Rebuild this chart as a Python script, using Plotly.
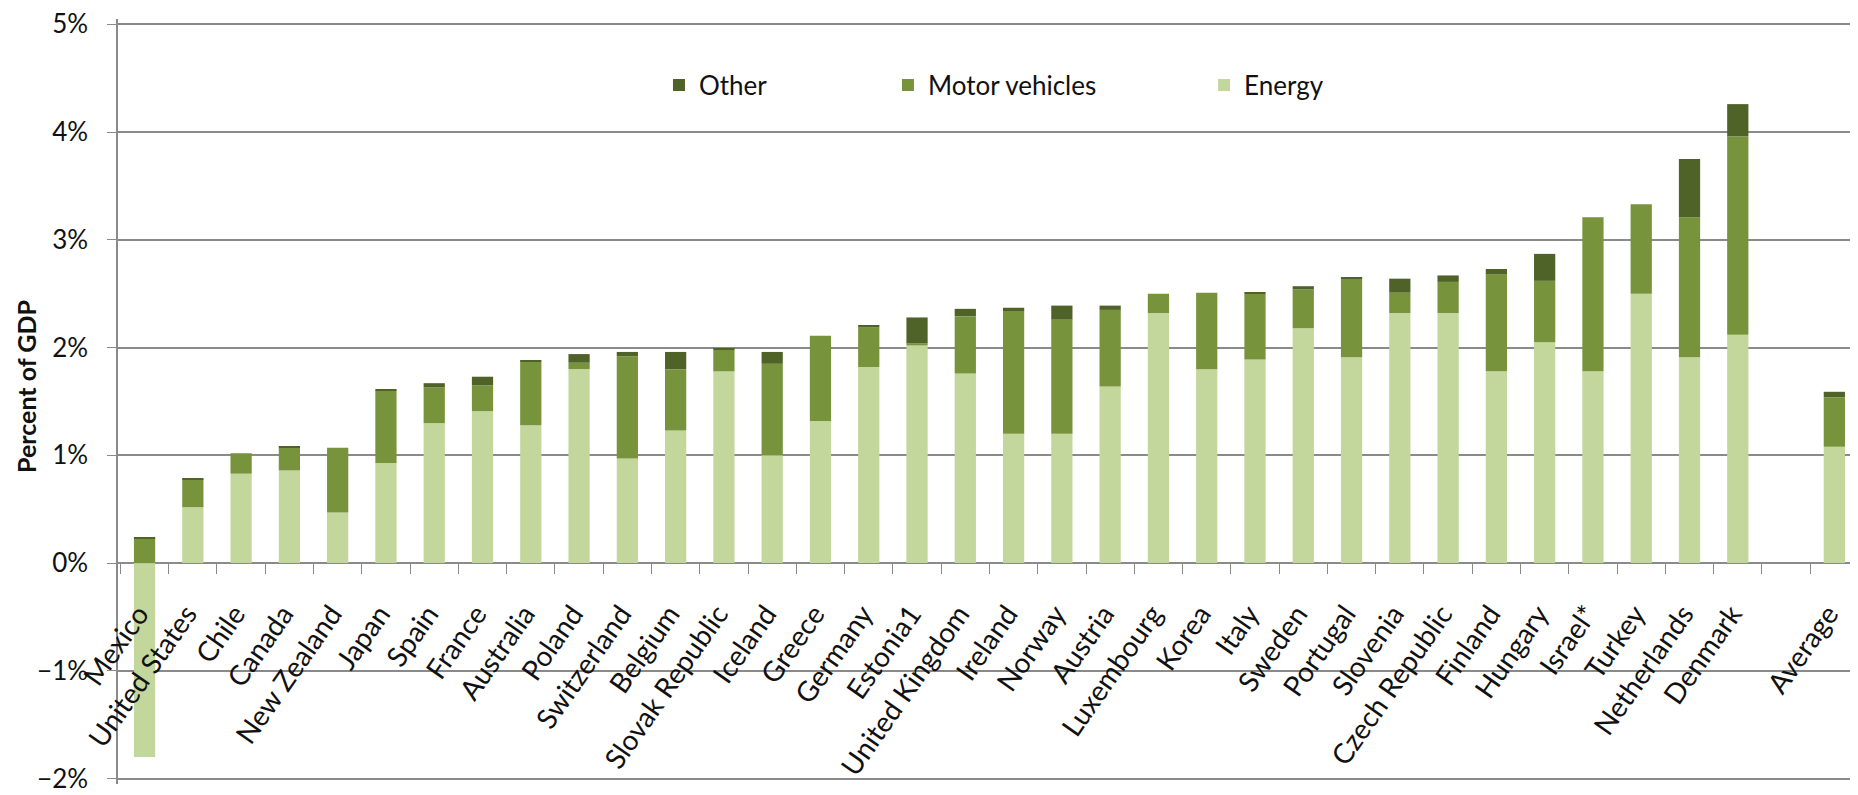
import plotly.graph_objects as go

countries = ["Mexico", "United States", "Chile", "Canada", "New Zealand", "Japan",
             "Spain", "France", "Australia", "Poland", "Switzerland", "Belgium",
             "Slovak Republic", "Iceland", "Greece", "Germany", "Estonia1",
             "United Kingdom", "Ireland", "Norway", "Austria", "Luxembourg", "Korea",
             "Italy", "Sweden", "Portugal", "Slovenia", "Czech Republic", "Finland",
             "Hungary", "Israel*", "Turkey", "Netherlands", "Denmark"]

energy = [-1.80, 0.52, 0.83, 0.86, 0.47, 0.93, 1.30, 1.41, 1.28, 1.80, 0.97, 1.23,
          1.78, 1.00, 1.32, 1.82, 2.02, 1.76, 1.20, 1.20, 1.64, 2.32, 1.80,
          1.89, 2.18, 1.91, 2.32, 2.32, 1.78, 2.05, 1.78, 2.50, 1.91, 2.12]
motor = [0.23, 0.26, 0.19, 0.21, 0.60, 0.67, 0.33, 0.24, 0.59, 0.06, 0.95, 0.57,
         0.20, 0.85, 0.79, 0.37, 0.02, 0.53, 1.14, 1.06, 0.71, 0.18, 0.71,
         0.61, 0.36, 0.73, 0.19, 0.29, 0.90, 0.57, 1.43, 0.83, 1.30, 1.84]
other = [0.01, 0.01, 0.00, 0.01, 0.00, 0.01, 0.04, 0.08, 0.01, 0.08, 0.04, 0.16,
         0.01, 0.11, 0.00, 0.02, 0.24, 0.07, 0.03, 0.13, 0.04, 0.00, 0.00,
         0.01, 0.03, 0.01, 0.13, 0.06, 0.05, 0.25, 0.00, 0.00, 0.54, 0.30]

avg_label = "Average"
avg_energy = 1.08
avg_motor = 0.46
avg_other = 0.05

# empty slot between Denmark and the average
x = countries + [" ", avg_label]
y_energy = energy + [None, avg_energy]
y_motor = motor + [None, avg_motor]
y_other = other + [None, avg_other]

FONT = "Lato, 'Open Sans', sans-serif"
GRID = "#8a8a8a"

# padding so the 5% and -2% gridlines are not dropped at the plot edges
y_lo, y_hi = -2.05, 5.05
zero_pos = (0 - y_lo) / (y_hi - y_lo)

fig = go.Figure()
fig.add_trace(go.Bar(x=x, y=y_energy, name="Energy", marker_color="#c3d69b",
                     marker_line_width=0, legend="legend3"))
fig.add_trace(go.Bar(x=x, y=y_motor, name="Motor vehicles", marker_color="#77933c",
                     marker_line_width=0, legend="legend2"))
fig.add_trace(go.Bar(x=x, y=y_other, name="Other", marker_color="#4f6228",
                     marker_line_width=0, legend="legend"))

leg = dict(orientation="h", yanchor="middle", xanchor="left", y=0.9136,
           bgcolor="rgba(0,0,0,0)", font=dict(family=FONT, size=26, color="#111"))

# page body keeps its default 8px margin, so the figure is 8px smaller
fig.update_layout(
    width=1850, height=787,
    barmode="relative", bargap=0.56,
    showlegend=True,
    plot_bgcolor="white", paper_bgcolor="white",
    margin=dict(l=110, r=0, t=8, b=11),
    font=dict(family=FONT, color="#111"),
    legend=dict(leg, x=0.3109),
    legend2=dict(leg, x=0.4425),
    legend3=dict(leg, x=0.6242),
    xaxis=dict(
        type="category", range=[-0.55, 35.49],
        anchor="free", position=zero_pos,
        showline=False,
        ticks="outside", tickson="boundaries", ticklen=10, tickcolor=GRID,
        ticklabelstandoff=28, ticklabelshift=-6,
        tickangle=-55, tickfont=dict(family=FONT, size=28, color="#111"),
        showgrid=False,
    ),
    yaxis=dict(
        range=[y_lo, y_hi], dtick=1, ticksuffix="%",
        showgrid=True, gridcolor=GRID, gridwidth=1.5,
        zeroline=True, zerolinecolor=GRID, zerolinewidth=1.5,
        showline=True, linecolor=GRID, linewidth=1.5,
        ticks="outside", ticklen=9, tickcolor=GRID,
        ticklabelstandoff=14, ticklabeloverflow="allow",
        tickfont=dict(family=FONT, size=26, color="#111"),
    ),
    annotations=[dict(
        text="<b>Percent of GDP</b>", textangle=-90,
        xref="paper", yref="paper", x=-0.053, y=0.52,
        xanchor="center", yanchor="middle", showarrow=False,
        font=dict(family=FONT, size=25, color="#111"),
    )],
)

fig.write_html("out.html")
